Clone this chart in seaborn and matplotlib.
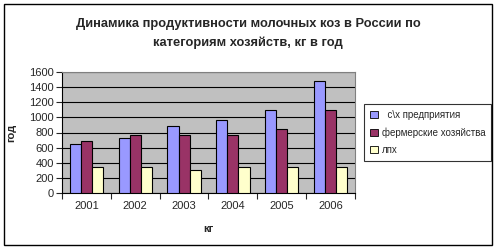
import matplotlib
matplotlib.use("Agg")
import matplotlib.pyplot as plt
import seaborn as sns
import pandas as pd
from matplotlib.patches import Rectangle
from matplotlib.ticker import FixedLocator

years = ["2001", "2002", "2003", "2004", "2005", "2006"]
series_names = ["  с\\х предприятия", "фермерские хозяйства", "лпх"]
s1 = [650, 730, 890, 970, 1100, 1480]
s2 = [690, 770, 770, 770, 850, 1100]
s3 = [340, 340, 310, 350, 350, 350]
colors = ["#9999FF", "#993366", "#FFFFCC"]

rows = []
for name, vals in zip(series_names, [s1, s2, s3]):
    for y, v in zip(years, vals):
        rows.append({"year": y, "series": name, "value": v})
df = pd.DataFrame(rows)

sns.set_style("white")
plt.rcParams["font.family"] = ["Liberation Sans", "DejaVu Sans"]

fig = plt.figure(figsize=(4.96, 2.49), dpi=100)
W, H = 496, 249
ax = fig.add_axes([62 / W, 1 - 193 / H, (355 - 62) / W, (193 - 72) / H])
ax.set_facecolor("#C0C0C0")

sns.barplot(data=df, x="year", y="value", hue="series", palette=colors,
            width=0.68, gap=0, edgecolor="black", linewidth=0.8, ax=ax,
            saturation=1, legend=True, zorder=3)

ax.set_ylim(0, 1600)
ax.set_xlim(-0.5, 5.5)
ax.set_yticks(range(0, 1601, 200))
ax.yaxis.grid(True, color="black", linewidth=0.8, zorder=0)
ax.set_axisbelow(True)
ax.tick_params(axis="y", labelsize=8, length=4, width=0.8, direction="out", left=True, pad=2)
ax.tick_params(axis="x", which="major", labelsize=8, length=0, pad=6)
ax.xaxis.set_minor_locator(FixedLocator([i - 0.5 for i in range(7)]))
ax.tick_params(axis="x", which="minor", length=4, width=0.8, direction="out", bottom=True)
for side in ["top", "right"]:
    ax.spines[side].set_visible(True)
    ax.spines[side].set_color("#808080")
    ax.spines[side].set_linewidth(0.8)
ax.spines["left"].set_color("black")
ax.spines["bottom"].set_color("black")
ax.spines["left"].set_linewidth(0.8)
ax.spines["bottom"].set_linewidth(0.8)

ax.set_xlabel("кг", fontsize=8, fontweight="bold", labelpad=9)
ax.set_ylabel("год", fontsize=8, fontweight="bold", labelpad=9)

leg = ax.legend(loc="upper left", bbox_to_anchor=(364 / W, 1 - 104 / H),
                bbox_transform=fig.transFigure, frameon=True, fontsize=7,
                handlelength=0.8, handleheight=0.8, handletextpad=0.4,
                borderpad=0.6, labelspacing=0.75, borderaxespad=0, fancybox=False)
leg.get_frame().set_edgecolor("black")
leg.get_frame().set_linewidth(0.8)
for h in leg.legend_handles:
    h.set_edgecolor("black")
    h.set_linewidth(0.6)

fig.text(0.5, 1 - 33.5 / H, "Динамика продуктивности молочных коз в России по\nкатегориям хозяйств, кг в год",
         ha="center", va="center", fontsize=9.3, fontweight="bold", linespacing=1.7)

fig.patches.append(Rectangle((4 / W, 1 - 245 / H), (492 - 4) / W, (245 - 4) / H,
                             transform=fig.transFigure, fill=False, edgecolor="black", linewidth=1))

fig.savefig("out.png", dpi=100)
